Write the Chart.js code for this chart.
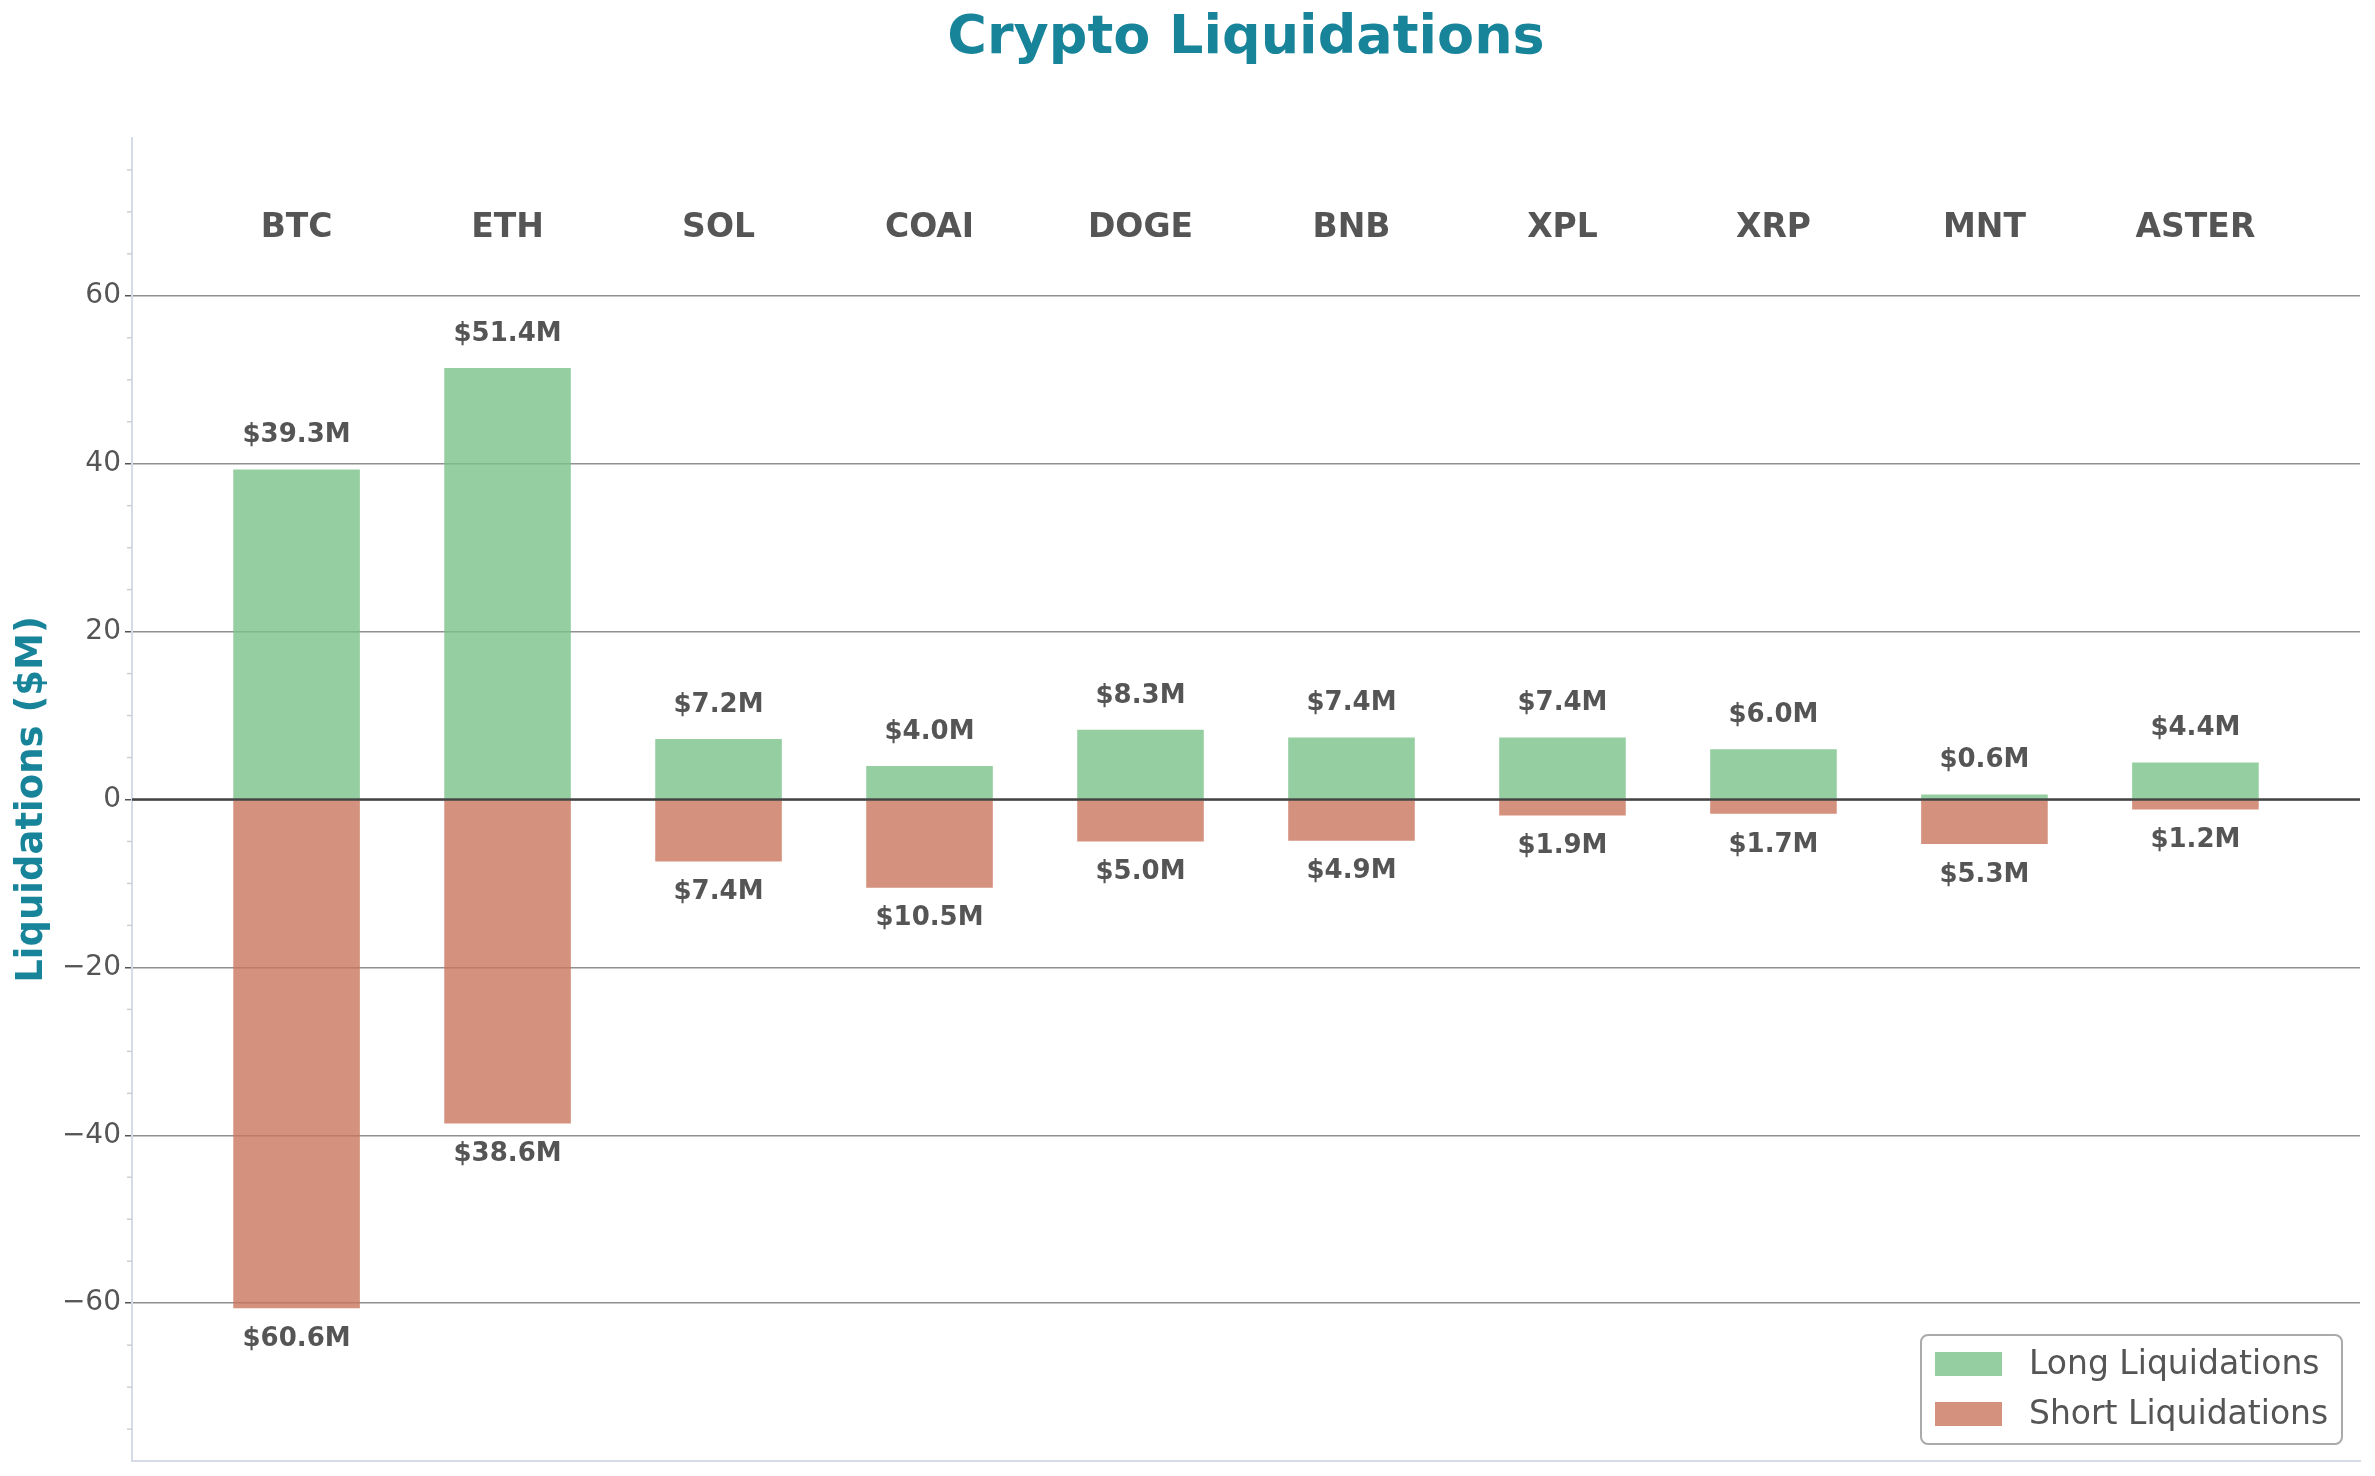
<!DOCTYPE html>
<html>
<head>
<meta charset="utf-8">
<title>Crypto Liquidations</title>
<script src="https://cdn.jsdelivr.net/npm/chart.js@4.4.1/dist/chart.umd.min.js"></script>
<style>
  html, body { margin: 0; padding: 0; background: #fff; }
  #chart-box { width: 2375px; height: 1476px; }
</style>
</head>
<body>
<div id="chart-box"><canvas id="liq-chart" width="2375" height="1476"></canvas></div>
<script>
// Liquidations per coin, in $M
var coins = ['BTC', 'ETH', 'SOL', 'COAI', 'DOGE', 'BNB', 'XPL', 'XRP', 'MNT', 'ASTER'];
var longLiq = [39.3, 51.4, 7.2, 4.0, 8.3, 7.4, 7.4, 6.0, 0.6, 4.4];
var shortLiq = [60.6, 38.6, 7.4, 10.5, 5.0, 4.9, 1.9, 1.7, 5.3, 1.2];
var yTicks = [-60, -40, -20, 0, 20, 40, 60];
var yMinorTicks = [-75, -70, -65, -55, -50, -45, -35, -30, -25, -15, -10, -5,
                   5, 10, 15, 25, 30, 35, 45, 50, 55, 65, 70, 75];

var TEAL = '#18849a';
var TEXT = '#555555';
var SPINE = '#d5dbe7';
var FONT = '"DejaVu Sans", sans-serif';

var longColor = 'rgba(122, 194, 137, 0.8)';
var shortColor = 'rgba(201, 118, 93, 0.8)';

var Y_MAX = 78.8;
var CAT_LABEL_Y = 68.5;

////// overlay: title, zero line, minor ticks, labels, legend /////////
var overlayPlugin = {
  id: 'overlay',
  afterDatasetsDraw: function(chart) {
    var ctx = chart.ctx;
    var xs = chart.scales.x;
    var ys = chart.scales.y;
    var area = chart.chartArea;
    ctx.save();

    // title, centred over the plot area
    ctx.fillStyle = TEAL;
    ctx.textAlign = 'center';
    ctx.textBaseline = 'middle';
    ctx.font = 'bold 54px ' + FONT;
    ctx.fillText('Crypto Liquidations', (area.left + area.right) / 2, 39);

    // zero line over the bars
    var y0 = ys.getPixelForValue(0);
    ctx.strokeStyle = '#444';
    ctx.lineWidth = 2.5;
    ctx.beginPath();
    ctx.moveTo(area.left, y0);
    ctx.lineTo(area.right, y0);
    ctx.stroke();

    // minor ticks
    ctx.strokeStyle = '#cfcfcf';
    ctx.lineWidth = 1.5;
    yMinorTicks.forEach(function(v) {
      var py = ys.getPixelForValue(v);
      ctx.beginPath();
      ctx.moveTo(area.left - 5, py);
      ctx.lineTo(area.left, py);
      ctx.stroke();
    });

    // coin names
    ctx.fillStyle = TEXT;
    ctx.font = 'bold 33px ' + FONT;
    coins.forEach(function(c, i) {
      ctx.fillText(c, xs.getPixelForValue(i), ys.getPixelForValue(CAT_LABEL_Y) + 4);
    });

    // value labels
    ctx.font = 'bold 26px ' + FONT;
    longLiq.forEach(function(v, i) {
      ctx.fillText('$' + v.toFixed(1) + 'M', xs.getPixelForValue(i), ys.getPixelForValue(v) - 34);
    });
    shortLiq.forEach(function(v, i) {
      ctx.fillText('$' + v.toFixed(1) + 'M', xs.getPixelForValue(i), ys.getPixelForValue(-v) + 31);
    });

    // legend box, bottom right
    var bw = 421, bh = 109;
    var bx = area.right - 18 - bw;
    var by = area.bottom - 17 - bh;
    ctx.fillStyle = 'rgba(255,255,255,0.85)';
    ctx.strokeStyle = '#aaaaaa';
    ctx.lineWidth = 2;
    ctx.beginPath();
    ctx.roundRect(bx, by, bw, bh, 7);
    ctx.fill();
    ctx.stroke();

    var items = [
      { label: chart.data.datasets[0].label, color: longColor },
      { label: chart.data.datasets[1].label, color: shortColor }
    ];
    ctx.font = '33px ' + FONT;
    ctx.textAlign = 'left';
    items.forEach(function(it, k) {
      var cy = by + 29 + k * 50;
      ctx.fillStyle = it.color;
      ctx.fillRect(bx + 14, cy - 12, 67, 24);
      ctx.fillStyle = TEXT;
      ctx.fillText(it.label, bx + 108, cy + 1);
    });

    ctx.restore();
  }
};

const ctx_liq = document.getElementById('liq-chart');
new Chart(ctx_liq, {
  type: 'bar',
  data: {
    datasets: [{
      label: 'Long Liquidations',
      backgroundColor: longColor,
      data: longLiq.map(function(v, i) { return { x: i, y: v }; }),
      borderWidth: 0,
      barPercentage: 0.6,
      categoryPercentage: 1.0
    }, {
      label: 'Short Liquidations',
      backgroundColor: shortColor,
      data: shortLiq.map(function(v, i) { return { x: i, y: -v }; }),
      borderWidth: 0,
      barPercentage: 0.6,
      categoryPercentage: 1.0
    }]
  },
  options: {
    responsive: false,
    devicePixelRatio: 1,
    animation: false,
    layout: { padding: { left: 0, right: 15, top: 138, bottom: 0 } },
    plugins: {
      legend: { display: false },
      tooltip: { enabled: false },
      title: { display: false }
    },
    scales: {
      x: {
        type: 'linear',
        min: -0.78,
        max: 9.78,
        stacked: true,
        offset: false,
        afterBuildTicks: function(scale) {
          scale.ticks = coins.map(function(c, i) { return { value: i }; });
        },
        ticks: { display: false },
        grid: { display: false },
        border: { display: true, color: SPINE, width: 2 },
        afterFit: function(scale) { scale.height = 15; }
      },
      y: {
        min: -Y_MAX,
        max: Y_MAX,
        stacked: true,
        afterBuildTicks: function(scale) {
          scale.ticks = yTicks.map(function(v) { return { value: v }; });
        },
        afterFit: function(scale) {
          scale.width = 132;
          scale.paddingTop = 0;
          scale.paddingBottom = 0;
        },
        ticks: {
          color: TEXT,
          padding: 4,
          font: { family: FONT, size: 28 },
          callback: function(value) {
            return value < 0 ? '\u2212' + Math.abs(value) : String(value);
          }
        },
        grid: {
          color: '#8f8f8f',
          lineWidth: 1.5,
          tickColor: TEXT,
          tickLength: 7
        },
        border: { display: true, color: SPINE, width: 2 },
        title: {
          display: true,
          text: 'Liquidations ($M)',
          color: TEAL,
          font: { family: FONT, size: 37, weight: 'bold' },
          padding: { top: 10, bottom: 0 }
        }
      }
    }
  },
  plugins: [overlayPlugin]
});
</script>
</body>
</html>
